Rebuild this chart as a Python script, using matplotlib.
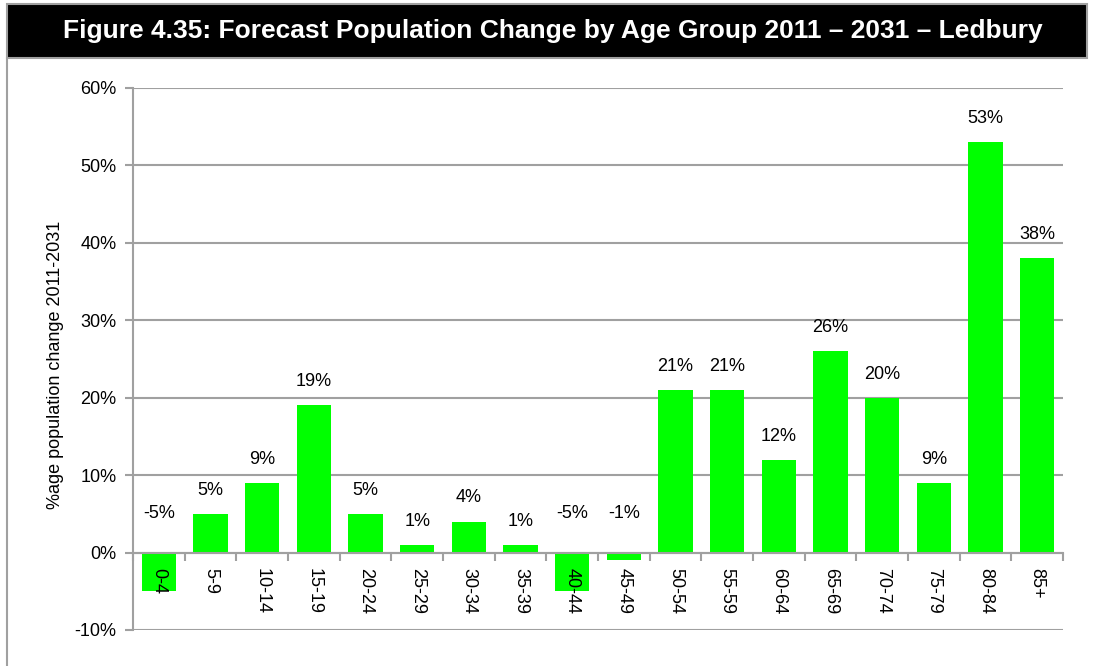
import numpy as np
import matplotlib.pyplot as plt
from matplotlib.patches import Rectangle
from matplotlib.lines import Line2D

# grupos etarios e variacao percentual 2011-2031
grupos = ['0-4', '5-9', '10-14', '15-19', '20-24', '25-29', '30-34', '35-39', '40-44',
          '45-49', '50-54', '55-59', '60-64', '65-69', '70-74', '75-79', '80-84', '85+']
variacao = [-5, 5, 9, 19, 5, 1, 4, 1, -5, -1, 21, 21, 12, 26, 20, 9, 53, 38]
titulo = 'Figure 4.35: Forecast Population Change by Age Group 2011 \u2013 2031 \u2013 Ledbury'

plt.rcParams['font.family'] = ['Liberation Sans', 'DejaVu Sans']
cinza = '#A0A0A0'
verde = '#00FF00'

fig = plt.figure(figsize=(10.93, 6.66), dpi=100)
W, H = 1093, 666

# barra do titulo e moldura
fig.patches.append(Rectangle((7/W, 1-58/H), 1080/W, 54/H, transform=fig.transFigure,
                             facecolor='black', edgecolor=cinza, linewidth=1.5))
fig.lines.append(Line2D([7/W, 7/W], [0, 1-58/H], transform=fig.transFigure,
                        color=cinza, linewidth=1.5))
fig.text(553/W, 1-31/H, titulo, color='white', fontsize=19, fontweight='bold',
         ha='center', va='center')

ax = fig.add_axes([133/W, 1-630/H, 930/W, 542/H])
x = np.arange(len(grupos))
ax.bar(x, variacao, width=0.67, color=verde, zorder=3)

ax.set_xlim(-0.5, len(grupos) - 0.5)
ax.set_ylim(-10, 60)
ax.set_yticks(np.arange(-10, 61, 10))
ax.set_yticklabels(['%d%%' % v for v in np.arange(-10, 61, 10)], fontsize=13)
ax.yaxis.grid(True, color=cinza, linewidth=1.5, zorder=0)
ax.set_axisbelow(True)
ax.tick_params(axis='y', direction='out', length=6, width=1.5, color=cinza, pad=6)

for s in ['top', 'right']:
    ax.spines[s].set_visible(False)
ax.spines['left'].set_color(cinza)
ax.spines['left'].set_linewidth(1.5)
ax.spines['bottom'].set_position(('data', 0))
ax.spines['bottom'].set_color(cinza)
ax.spines['bottom'].set_linewidth(1.5)
ax.spines['bottom'].set_zorder(4)

ax.set_xticks(np.arange(-0.5, len(grupos), 1.0))
ax.set_xticklabels([])
ax.tick_params(axis='x', which='major', direction='out', length=6, width=1.5, color=cinza)

# rotulos das categorias por cima das barras
for xi, g in zip(x, grupos):
    ax.annotate(g, (xi, 0), xytext=(0, -11), textcoords='offset points', rotation=270,
                ha='center', va='top', fontsize=13, zorder=5)

ax.set_ylabel('%age population change 2011-2031', fontsize=13)
ax.yaxis.set_label_coords(-0.074, 0.49)

for xi, v in zip(x, variacao):
    if v >= 0:
        ax.annotate('%d%%' % v, (xi, v), xytext=(0, 17), textcoords='offset points',
                    ha='center', va='center', fontsize=13)
    else:
        ax.annotate('%d%%' % v, (xi, 0), xytext=(0, 28), textcoords='offset points',
                    ha='center', va='center', fontsize=13)

plt.savefig('out.png', dpi=100)
